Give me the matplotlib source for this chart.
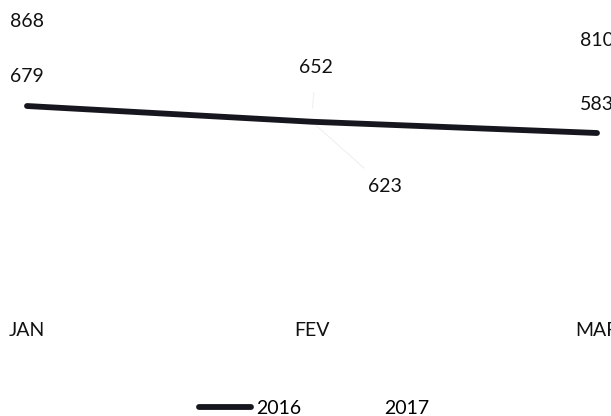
import matplotlib.pyplot as plt

months = ["JAN", "FEV", "MAR"]
vals_2016 = [679, 623, 583]
vals_2017 = [868, 652, 810]

# label offsets in pixels (moved labels like in the original sheet)
off_2016 = [(0, 30), (73, -65), (0, 29)]
off_2017 = [(0, 31), (4, 46), (0, 29)]

plt.rcParams['font.family'] = ['Lato', 'DejaVu Sans']
fs = 14

fig = plt.figure(figsize=(6.11, 4.16), dpi=100)
ax = fig.add_axes([0, 101 / 416, 1, 315 / 416])

x = range(len(months))
ax.plot(x, vals_2016, color='#16161f', lw=4.2, solid_capstyle='round', label='2016')
ax.plot(x, vals_2017, color='#ffffff', lw=2, label='2017')

for xi, v, off in zip(x, vals_2016, off_2016):
    lead = dict(arrowstyle='-', color='#f0f0f0', lw=0.8, shrinkA=8, shrinkB=4) if off[0] else None
    ax.annotate(str(v), (xi, v), xytext=off, textcoords='offset pixels',
                ha='center', va='center', fontsize=fs, color='#111111',
                arrowprops=lead, annotation_clip=False)
for xi, v, off in zip(x, vals_2017, off_2017):
    lead = dict(arrowstyle='-', color='#f0f0f0', lw=0.8, shrinkA=10, shrinkB=4) if xi == 1 else None
    ax.annotate(str(v), (xi, v), xytext=off, textcoords='offset pixels',
                ha='center', va='center', fontsize=fs, color='#111111',
                arrowprops=lead, annotation_clip=False)

ax.set_xlim(-27 / 285, 2 + 14 / 285)
ax.set_ylim(-64.1, 1055.9)
ax.set_xticks(list(x))
ax.set_xticklabels(months, fontsize=fs, color='#111111')
ax.tick_params(axis='x', length=0, pad=5)
ax.set_yticks([])
for s in ax.spines.values():
    s.set_visible(False)

fig.legend(loc='center', bbox_to_anchor=(314 / 611, 1 - 408 / 416), ncol=2,
           frameon=False, fontsize=fs, handlelength=2.7, handletextpad=0.25,
           columnspacing=1.3)

plt.savefig("out.png", dpi=100, facecolor='w')
